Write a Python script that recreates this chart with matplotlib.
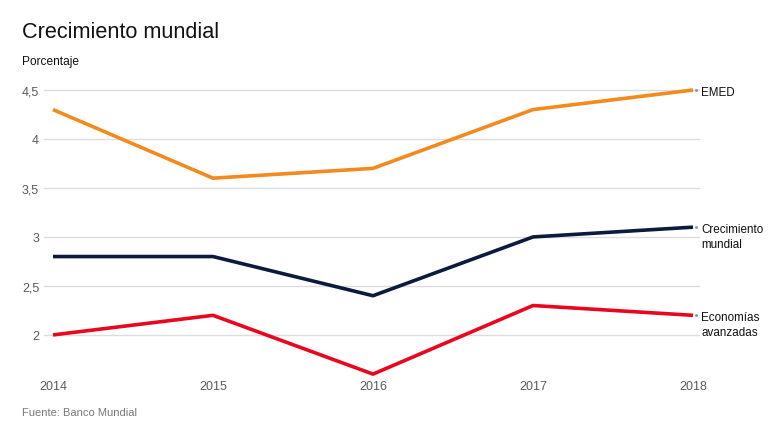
import matplotlib
matplotlib.use("Agg")
import matplotlib.pyplot as plt
from matplotlib.ticker import FuncFormatter

years = [2014, 2015, 2016, 2017, 2018]
emed = [4.3, 3.6, 3.7, 4.3, 4.5]
mundial = [2.8, 2.8, 2.4, 3.0, 3.1]
avanzadas = [2.0, 2.2, 1.6, 2.3, 2.2]
series_labels = ["EMED", "Crecimiento\nmundial", "Economías\navanzadas"]
y_ticks = [2, 2.5, 3, 3.5, 4, 4.5]

plt.rcParams['font.family'] = ['Liberation Sans', 'DejaVu Sans']

W, H = 780, 439
fig = plt.figure(figsize=(W / 100, H / 100), dpi=100)
left_px, right_px = 44, 700
top_px, bot_px = 86.1, 380
ax = fig.add_axes([left_px / W, 1 - bot_px / H, (right_px - left_px) / W, (bot_px - top_px) / H])

ax.set_xlim(2014 - 9 / 160, 2018 + 7 / 160)
ax.set_ylim(1.55, 4.55)

colors = ["#F28A1E", "#0C1B3C", "#E8071E"]
for vals, c, lab in zip([emed, mundial, avanzadas], colors, series_labels):
    ax.plot(years, vals, color=c, lw=2.6, solid_capstyle='butt', zorder=3)
    multi = '\n' in lab
    ax.annotate(lab, xy=(years[-1], vals[-1]), xytext=(6, 2.8 if multi else -1.5),
                textcoords='offset points', va='top' if multi else 'center', ha='left',
                fontsize=8.4, color='#111111', linespacing=1.3)
    ax.plot([years[-1] + 0.02], [vals[-1]], marker='o', ms=1.2, color='#999999', zorder=4)

ax.set_yticks(y_ticks)
ax.yaxis.set_major_formatter(FuncFormatter(lambda v, p: (f"{v:g}").replace('.', ',')))
ax.set_xticks(years)
ax.set_xticklabels([str(y) for y in years])
ax.grid(axis='y', color='#dddddd', lw=1)
ax.set_axisbelow(True)
for s in ax.spines.values():
    s.set_visible(False)
ax.tick_params(axis='both', length=0, labelsize=9, labelcolor='#5a5a5a')
ax.tick_params(axis='y', pad=3.5)
ax.tick_params(axis='x', pad=1)

fig.text(22 / W, 1 - 33 / H, "Crecimiento mundial", fontsize=15.6, color='#111111', va='center', ha='left')
fig.text(22 / W, 1 - 62 / H, "Porcentaje", fontsize=8.6, color='#111111', va='center', ha='left', fontweight='medium')
fig.text(22 / W, 1 - 413 / H, "Fuente: Banco Mundial", fontsize=8, color='#777777', va='center', ha='left')

fig.savefig("out.png", dpi=100)
